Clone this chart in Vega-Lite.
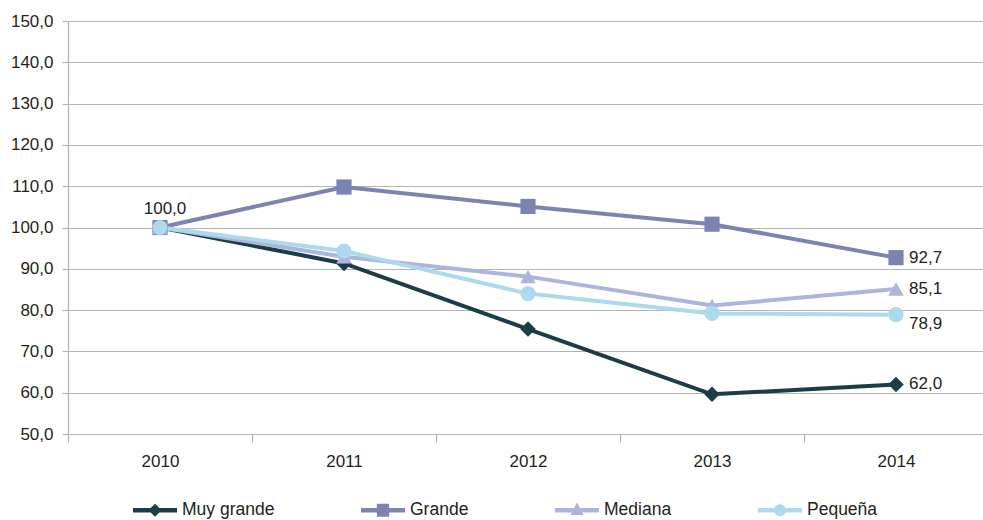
{
  "$schema": "https://vega.github.io/schema/vega-lite/v6.json",
  "width": 920,
  "height": 413,
  "autosize": {"type": "none"},
  "padding": {"left": 68, "top": 21, "right": 0, "bottom": 86},
  "background": "white",
  "config": {
    "locale": {"number": {"decimal": ",", "thousands": ".", "grouping": [3], "currency": ["", " €"]}},
    "font": "Liberation Sans",
    "view": {"stroke": null}
  },
  "data": {
    "values": [
      {"year": "2010", "serie": "Muy grande", "value": 100.0},
      {"year": "2011", "serie": "Muy grande", "value": 91.3},
      {"year": "2012", "serie": "Muy grande", "value": 75.4},
      {"year": "2013", "serie": "Muy grande", "value": 59.6},
      {"year": "2014", "serie": "Muy grande", "value": 62.0},
      {"year": "2010", "serie": "Grande", "value": 100.0},
      {"year": "2011", "serie": "Grande", "value": 109.8},
      {"year": "2012", "serie": "Grande", "value": 105.1},
      {"year": "2013", "serie": "Grande", "value": 100.8},
      {"year": "2014", "serie": "Grande", "value": 92.7},
      {"year": "2010", "serie": "Mediana", "value": 100.0},
      {"year": "2011", "serie": "Mediana", "value": 92.9},
      {"year": "2012", "serie": "Mediana", "value": 88.1},
      {"year": "2013", "serie": "Mediana", "value": 81.1},
      {"year": "2014", "serie": "Mediana", "value": 85.1},
      {"year": "2010", "serie": "Pequeña", "value": 100.0},
      {"year": "2011", "serie": "Pequeña", "value": 94.3},
      {"year": "2012", "serie": "Pequeña", "value": 84.0},
      {"year": "2013", "serie": "Pequeña", "value": 79.2},
      {"year": "2014", "serie": "Pequeña", "value": 78.9}
    ]
  },
  "encoding": {
    "x": {
      "field": "year",
      "type": "ordinal",
      "bandPosition": 0.5,
      "scale": {"type": "band", "paddingInner": 0, "paddingOuter": 0},
      "axis": {
        "title": null,
        "labelAngle": 0,
        "tickBand": "extent",
        "tickSize": 8,
        "labelPadding": 11,
        "labelFontSize": 17,
        "labelColor": "#231f20",
        "domainColor": "#b3b3b3",
        "tickColor": "#b3b3b3",
        "domainWidth": 1.2,
        "tickWidth": 1.2,
        "grid": false
      }
    },
    "y": {
      "field": "value",
      "type": "quantitative",
      "scale": {"domain": [50, 150], "nice": false, "zero": false},
      "axis": {
        "title": null,
        "values": [50, 60, 70, 80, 90, 100, 110, 120, 130, 140, 150],
        "format": ".1f",
        "grid": true,
        "gridColor": "#b3b3b3",
        "gridWidth": 1.2,
        "domainColor": "#b3b3b3",
        "domainWidth": 1.2,
        "tickColor": "#b3b3b3",
        "tickWidth": 1.2,
        "tickSize": 6,
        "labelPadding": 9,
        "labelFontSize": 17,
        "labelColor": "#231f20"
      }
    },
    "color": {
      "field": "serie",
      "type": "nominal",
      "sort": ["Muy grande", "Grande", "Mediana", "Pequeña"],
      "scale": {
        "domain": ["Muy grande", "Grande", "Mediana", "Pequeña"],
        "range": ["#1b3d47", "#7c83b0", "#abb5dd", "#acd9ec"]
      },
      "legend": {
        "orient": "none",
        "legendX": 65,
        "legendY": 467,
        "direction": "horizontal",
        "title": null,
        "symbolSize": 1936,
        "symbolStrokeWidth": 0,
        "labelFontSize": 17.5,
        "labelColor": "#231f20",
        "labelOffset": 5,
        "columnPadding": 86,
        "encode": {
          "symbols": {
            "update": {
              "shape": {"signal": "datum.value === 'Muy grande' ? 'M-1,-0.1H1V0.1H-1Z M0,-0.3L0.3,0L0,0.3L-0.3,0Z' : datum.value === 'Grande' ? 'M-1,-0.1H1V0.1H-1Z M-0.28,-0.3H0.28V0.3H-0.28Z' : datum.value === 'Mediana' ? 'M-1,-0.1H1V0.1H-1Z M0,-0.36L0.3,0.22H-0.3Z' : 'M-1,-0.1H1V0.1H-1Z M0.27,0A0.27,0.27 0 1,1 -0.27,0A0.27,0.27 0 1,1 0.27,0Z'"},
              "fill": {"signal": "scale('color', datum.value)"},
              "strokeWidth": {"value": 0},
              "opacity": {"value": 1}
            }
          }
        }
      }
    }
  },
  "layer": [
    {"mark": {"type": "line", "strokeWidth": 4}},
    {
      "transform": [{"filter": "datum.serie === 'Muy grande'"}],
      "mark": {"type": "point", "filled": true, "shape": "diamond", "size": 240, "opacity": 1}
    },
    {
      "transform": [{"filter": "datum.serie === 'Grande'"}],
      "mark": {"type": "point", "filled": true, "shape": "square", "size": 230, "opacity": 1}
    },
    {
      "transform": [{"filter": "datum.serie === 'Mediana'"}],
      "mark": {"type": "point", "filled": true, "shape": "triangle-up", "size": 240, "opacity": 1}
    },
    {
      "transform": [{"filter": "datum.serie === 'Pequeña'"}],
      "mark": {"type": "point", "filled": true, "shape": "circle", "size": 230, "opacity": 1}
    },
    {
      "transform": [{"filter": "datum.year === '2010' && datum.serie === 'Grande'"}],
      "mark": {"type": "text", "fontSize": 17, "baseline": "bottom", "dy": -10, "dx": 5},
      "encoding": {"text": {"field": "value", "type": "quantitative", "format": ".1f"}, "color": {"value": "#231f20"}}
    },
    {
      "transform": [{"filter": "datum.year === '2014' && datum.serie !== 'Pequeña'"}],
      "mark": {"type": "text", "fontSize": 17, "align": "left", "baseline": "middle", "dx": 13},
      "encoding": {"text": {"field": "value", "type": "quantitative", "format": ".1f"}, "color": {"value": "#231f20"}}
    },
    {
      "transform": [{"filter": "datum.year === '2014' && datum.serie === 'Pequeña'"}],
      "mark": {"type": "text", "fontSize": 17, "align": "left", "baseline": "middle", "dx": 13, "dy": 9},
      "encoding": {"text": {"field": "value", "type": "quantitative", "format": ".1f"}, "color": {"value": "#231f20"}}
    }
  ]
}
